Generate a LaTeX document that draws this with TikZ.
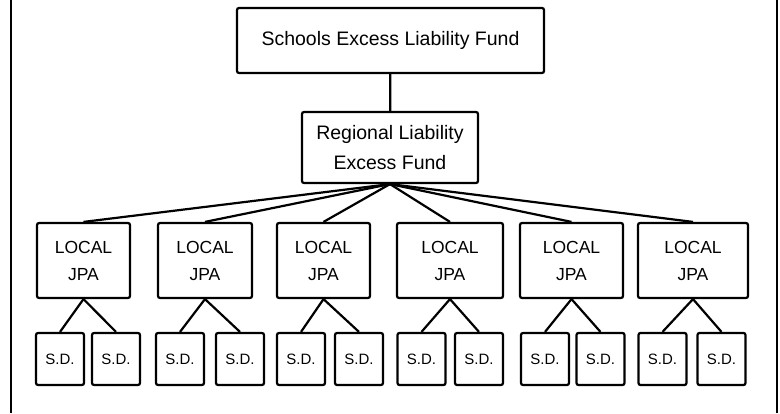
\documentclass[tikz,border=0pt]{standalone}
\usepackage{fontspec}
\setmainfont{Liberation Sans}
\usepackage{tikz}

\tikzset{
  fund/.style={draw, line width=2.2pt, rounded corners=2pt, align=center, inner sep=0pt},
  jpa/.style={fund, minimum height=75pt, font=\fontsize{17.5}{27}\selectfont},
  sd/.style={fund, minimum width=48pt, minimum height=52pt, font=\fontsize{15}{18}\selectfont},
  link/.style={line width=2.2pt}
}

\begin{document}
\begin{tikzpicture}[x=1pt,y=-1pt]
\useasboundingbox (0,0) rectangle (780,413);
% frame
\draw[line width=2.2pt] (11,0) -- (11,413);
\draw[line width=2.8pt] (777,0) -- (777,413);
% top two levels
\node[fund, minimum width=307pt, minimum height=65pt, font=\fontsize{19.5}{22}\selectfont] (self) at (390.5,40.5) {Schools Excess Liability Fund};
\node[fund, minimum width=176pt, minimum height=71pt, font=\fontsize{19.5}{30}\selectfont] (relf) at (390,147.5) {Regional Liability\\Excess Fund};
\draw[link] (self) -- (relf);
% local JPAs and their school districts
\foreach \i/\x/\w/\a/\b in {1/83.5/93/60/116, 2/205/94/180/240, 3/323.5/93/301/359,
    4/450/106/421.5/479, 5/571.5/103/545/600.5, 6/693/110/662.5/721.5}{
  \node[jpa, minimum width=\w pt] (jpa\i) at (\x,260.5) {LOCAL\\JPA};
  \node[sd] (sda\i) at (\a,359) {S.D.};
  \node[sd] (sdb\i) at (\b,359) {S.D.};
  \draw[link] (relf.south) -- (jpa\i.north);
  \draw[link] (jpa\i.south) -- (sda\i.north);
  \draw[link] (jpa\i.south) -- (sdb\i.north);
}
\end{tikzpicture}
\end{document}
